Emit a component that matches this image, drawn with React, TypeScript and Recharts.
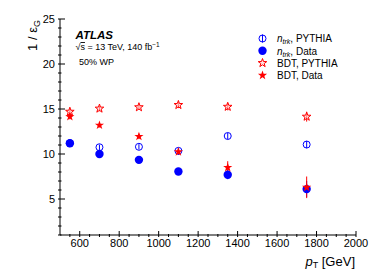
import React from 'react';
import { ScatterChart, Scatter, XAxis, YAxis, ErrorBar } from 'recharts';

// transverse momentum bins [GeV]
const ptBins = [550, 700, 900, 1100, 1350, 1750];

const ntrkPythia = [11.2, 10.75, 10.8, 10.35, 12.0, 11.05];
const ntrkPythiaErr = [0.3, 0.3, 0.3, 0.3, 0.35, 0.4];
const ntrkData = [11.2, 10.0, 9.35, 8.05, 7.7, 6.1];
const ntrkDataErr = [0.2, 0.2, 0.2, 0.25, 0.5, 0.9];
const bdtPythia = [14.7, 15.05, 15.2, 15.45, 15.25, 14.15];
const bdtPythiaErr = [0.3, 0.3, 0.3, 0.35, 0.4, 0.55];
const bdtData = [14.15, 13.2, 11.95, 10.25, 8.5, 6.3];
const bdtDataErr = [0.3, 0.25, 0.3, 0.35, 0.7, 1.2];

const xMajor = [600, 800, 1000, 1200, 1400, 1600, 1800, 2000];
const xMinor = [550, 650, 700, 750, 850, 900, 950, 1050, 1100, 1150, 1250, 1300, 1350, 1450, 1500, 1550, 1650, 1700, 1750, 1850, 1900, 1950];
const yMajor = [5, 10, 15, 20, 25];
const yMinor = [2, 3, 4, 6, 7, 8, 9, 11, 12, 13, 14, 16, 17, 18, 19, 21, 22, 23, 24];

const BLUE = '#0000ff';
const RED = '#ff0000';
const FONT = '"Liberation Sans", Arial, Helvetica, sans-serif';

const toPoints = (vals: number[], errs: number[]) =>
  ptBins.map((pt, i) => ({ pt, v: vals[i], e: errs[i] }));

const starPath = (cx: number, cy: number, R: number) => {
  const r = R * 0.4;
  let d = '';
  for (let k = 0; k < 10; k++) {
    const rad = k % 2 === 0 ? R : r;
    const a = (Math.PI / 5) * k - Math.PI / 2;
    d += (k === 0 ? 'M' : 'L') + (cx + rad * Math.cos(a)).toFixed(2) + ',' + (cy + rad * Math.sin(a)).toFixed(2);
  }
  return d + 'Z';
};

const OpenCircle = ({ cx, cy }: any) => (
  <circle cx={cx} cy={cy} r={3.5} fill="none" stroke={BLUE} strokeWidth={1} />
);
const FullCircle = ({ cx, cy }: any) => <circle cx={cx} cy={cy} r={4.2} fill={BLUE} />;
const OpenStar = ({ cx, cy }: any) => (
  <path d={starPath(cx, cy, 4.5)} fill="#ffd0d0" fillOpacity={0.6} stroke={RED} strokeWidth={1} />
);
const FullStar = ({ cx, cy }: any) => <path d={starPath(cx, cy, 4.8)} fill={RED} />;

const isMajorX = (v: number) => xMajor.includes(v);
const isMajorY = (v: number) => yMajor.includes(v);

const BottomTick = ({ x, y, payload }: any) => {
  const major = isMajorX(payload.value);
  return (
    <g>
      <line x1={x} x2={x} y1={y} y2={y - (major ? 6 : 3)} stroke="#000" />
      {major && (
        <text x={x} y={y + 10} textAnchor="middle" fontSize={11} fontFamily={FONT} fill="#000">
          {payload.value}
        </text>
      )}
    </g>
  );
};
const TopTick = ({ x, y, payload }: any) => {
  const major = isMajorX(payload.value);
  return <line x1={x} x2={x} y1={y} y2={y + (major ? 6 : 3)} stroke="#000" />;
};
const LeftTick = ({ x, y, payload }: any) => {
  const major = isMajorY(payload.value);
  return (
    <g>
      <line x1={x} x2={x + (major ? 7 : 3.5)} y1={y} y2={y} stroke="#000" />
      {major && (
        <text x={x - 3} y={y + 4} textAnchor="end" fontSize={11} fontFamily={FONT} fill="#000">
          {payload.value}
        </text>
      )}
    </g>
  );
};
const RightTick = ({ x, y, payload }: any) => {
  const major = isMajorY(payload.value);
  return <line x1={x} x2={x - (major ? 7 : 3.5)} y1={y} y2={y} stroke="#000" />;
};

const xTicks = [...xMajor, ...xMinor].sort((a, b) => a - b);
const yTicks = [...yMajor, ...yMinor, 1].sort((a, b) => a - b);

const legendRows = [
  { y: 38.5, kind: 'oc', label: 'PYTHIA', ntrk: true },
  { y: 50.8, kind: 'fc', label: 'Data', ntrk: true },
  { y: 63, kind: 'os', label: 'BDT, PYTHIA', ntrk: false },
  { y: 75.3, kind: 'fs', label: 'BDT, Data', ntrk: false },
];

export default function App() {
  return (
    <div style={{ position: 'absolute', left: 0, top: 0, width: 374, height: 280, background: '#fff' }}>
      <ScatterChart width={374} height={280} margin={{ top: 19, right: 18, left: 0, bottom: 0 }}>
        <XAxis
          dataKey="pt"
          type="number"
          domain={[500, 2000]}
          ticks={xTicks}
          interval={0}
          height={45}
          tickSize={0}
          tickLine={false}
          tick={<BottomTick />}
          axisLine={{ stroke: '#000' }}
          allowDataOverflow
        />
        <XAxis
          xAxisId="top"
          orientation="top"
          type="number"
          domain={[500, 2000]}
          ticks={xTicks}
          interval={0}
          height={0}
          tickSize={0}
          tickLine={false}
          tick={<TopTick />}
          axisLine={{ stroke: '#000' }}
          allowDataOverflow
        />
        <YAxis
          dataKey="v"
          type="number"
          domain={[1, 25]}
          ticks={yTicks}
          interval={0}
          width={60}
          tickSize={0}
          tickLine={false}
          tick={<LeftTick />}
          axisLine={{ stroke: '#000' }}
          allowDataOverflow
        />
        <YAxis
          yAxisId="right"
          orientation="right"
          type="number"
          domain={[1, 25]}
          ticks={yTicks}
          interval={0}
          width={0}
          tickSize={0}
          tickLine={false}
          tick={<RightTick />}
          axisLine={{ stroke: '#000' }}
          allowDataOverflow
        />
        <Scatter data={toPoints(ntrkPythia, ntrkPythiaErr)} shape={<OpenCircle />} isAnimationActive={false}>
          <ErrorBar dataKey="e" direction="y" width={0} stroke={BLUE} strokeWidth={1} />
        </Scatter>
        <Scatter data={toPoints(ntrkData, ntrkDataErr)} shape={<FullCircle />} isAnimationActive={false}>
          <ErrorBar dataKey="e" direction="y" width={0} stroke={BLUE} strokeWidth={1} />
        </Scatter>
        <Scatter data={toPoints(bdtPythia, bdtPythiaErr)} shape={<OpenStar />} isAnimationActive={false}>
          <ErrorBar dataKey="e" direction="y" width={0} stroke={RED} strokeWidth={1} />
        </Scatter>
        <Scatter data={toPoints(bdtData, bdtDataErr)} shape={<FullStar />} isAnimationActive={false}>
          <ErrorBar dataKey="e" direction="y" width={0} stroke={RED} strokeWidth={1} />
        </Scatter>
      </ScatterChart>
      <svg
        width={374}
        height={280}
        style={{ position: 'absolute', left: 0, top: 0, pointerEvents: 'none' }}
        fontFamily={FONT}
      >
        <text x={75.5} y={38.5} fontSize={11.5} fontWeight="bold" fontStyle="italic">ATLAS</text>
        <text x={75.5} y={50} fontSize={9}>
          √<tspan textDecoration="overline">s</tspan> = 13 TeV, 140 fb
          <tspan fontSize={6.5} dy={-3.5}>−1</tspan>
        </text>
        <text x={79} y={64.5} fontSize={9}>50% WP</text>

        {legendRows.map((row) => (
          <g key={row.y}>
            {row.kind === 'oc' && (
              <g>
                <line x1={262.5} x2={262.5} y1={row.y - 4} y2={row.y + 4} stroke={BLUE} />
                <OpenCircle cx={262.5} cy={row.y} />
              </g>
            )}
            {row.kind === 'fc' && <FullCircle cx={262.5} cy={row.y} />}
            {row.kind === 'os' && <OpenStar cx={262.5} cy={row.y} />}
            {row.kind === 'fs' && <FullStar cx={262.5} cy={row.y} />}
            <text x={277} y={row.y + 3.7} fontSize={10}>
              {row.ntrk ? (
                <>
                  <tspan fontStyle="italic">n</tspan>
                  <tspan fontStyle="italic" fontSize={7} dy={2}>trk</tspan>
                  <tspan dy={-2}>, {row.label}</tspan>
                </>
              ) : (
                row.label
              )}
            </text>
          </g>
        ))}

        <text transform="translate(37,20) rotate(-90)" textAnchor="end" fontSize={13}>
          1 / ε<tspan fontSize={9} dy={3}>G</tspan>
        </text>
        <text x={355} y={266} textAnchor="end" fontSize={13}>
          <tspan fontStyle="italic">p</tspan>
          <tspan fontSize={9} dy={2}>T</tspan>
          <tspan dy={-2}> [GeV]</tspan>
        </text>
      </svg>
    </div>
  );
}
